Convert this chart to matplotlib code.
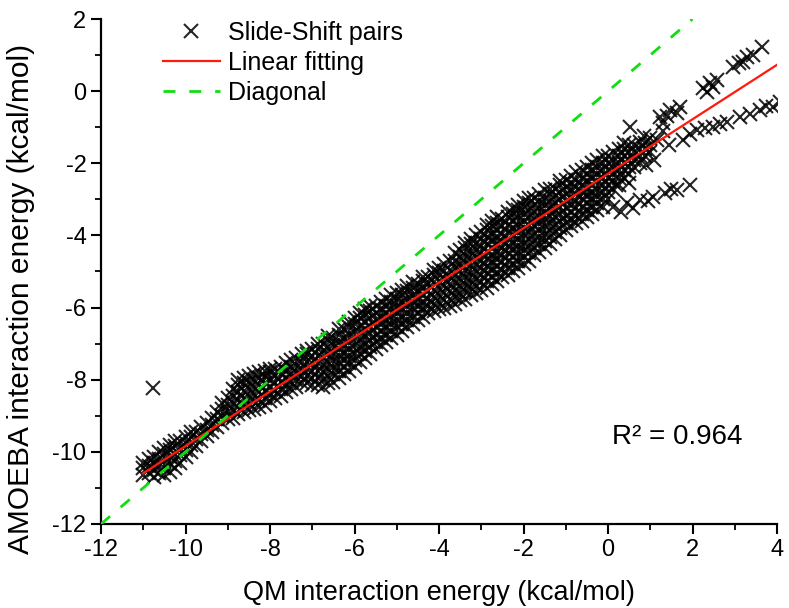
import matplotlib
matplotlib.use("Agg")
import matplotlib.pyplot as plt
from matplotlib.ticker import MultipleLocator

plt.rcParams['font.family'] = ['Liberation Sans', 'DejaVu Sans']
plt.rcParams['axes.unicode_minus'] = False

# ---- data ----
# dense band, main columns: QM value -> AMOEBA values
band_x = [-11.0, -10.75, -10.5, -10.25, -10.0, -9.75, -9.5, -9.25, -9.0, -8.75,
          -8.5, -8.25, -8.0, -7.75, -7.5, -7.25, -7.0, -6.75, -6.5, -6.25,
          -6.0, -5.75, -5.5, -5.25, -5.0, -4.75, -4.5, -4.25, -4.0, -3.75,
          -3.5, -3.25, -3.0, -2.75, -2.5, -2.25, -2.0, -1.75, -1.5, -1.25,
          -1.0, -0.75, -0.5, -0.25, 0.0, 0.25, 0.5, 0.75, 1.0]
band_y = [
    [-10.65, -10.45, -10.3],
    [-10.7, -10.5, -10.3, -10.15],
    [-10.65, -10.45, -10.25, -10.05, -9.9],
    [-10.45, -10.25, -10.05, -9.85, -9.7],
    [-10.15, -9.95, -9.75, -9.6],
    [-9.85, -9.65, -9.45],
    [-9.55, -9.4, -9.2],
    [-9.3, -9.1, -8.9],
    [-9.1, -8.9, -8.7, -8.5],
    [-8.95, -8.75, -8.55, -8.35, -8.15, -8.0],
    [-8.85, -8.65, -8.45, -8.25, -8.05, -7.9],
    [-8.75, -8.55, -8.35, -8.15, -7.95, -7.8],
    [-8.6, -8.4, -8.2, -8.0, -7.8, -7.7],
    [-8.45, -8.25, -8.05, -7.85, -7.65],
    [-8.25, -8.05, -7.85, -7.65, -7.45],
    [-8.1, -7.9, -7.7, -7.5, -7.3],
    [-8.15, -7.95, -7.75, -7.55, -7.35, -7.15],
    [-8.2, -8.0, -7.8, -7.6, -7.4, -7.2, -7.0],
    [-8.05, -7.85, -7.65, -7.45, -7.25, -7.05, -6.85],
    [-7.85, -7.65, -7.45, -7.25, -7.05, -6.85, -6.6],
    [-7.65, -7.45, -7.25, -7.05, -6.85, -6.65, -6.45, -6.3],
    [-7.4, -7.2, -7.0, -6.8, -6.6, -6.4, -6.2, -6.05],
    [-7.15, -6.95, -6.75, -6.55, -6.35, -6.15, -5.95],
    [-6.95, -6.75, -6.55, -6.35, -6.15, -5.95, -5.75],
    [-6.75, -6.55, -6.35, -6.15, -5.95, -5.75, -5.6],
    [-6.55, -6.35, -6.15, -5.95, -5.75, -5.55, -5.4],
    [-6.35, -6.15, -5.95, -5.75, -5.55, -5.35],
    [-6.15, -5.95, -5.75, -5.55, -5.35, -5.15],
    [-6.05, -5.85, -5.65, -5.45, -5.25, -5.05, -4.9],
    [-5.95, -5.75, -5.55, -5.35, -5.15, -4.95, -4.7],
    [-5.8, -5.6, -5.4, -5.2, -5.0, -4.8, -4.6, -4.4],
    [-5.65, -5.45, -5.25, -5.05, -4.85, -4.65, -4.45, -4.25, -4.1],
    [-5.5, -5.3, -5.1, -4.9, -4.7, -4.5, -4.3, -4.1, -3.9],
    [-5.35, -5.15, -4.95, -4.75, -4.55, -4.35, -4.15, -3.95, -3.75, -3.6],
    [-5.15, -4.95, -4.75, -4.55, -4.35, -4.15, -3.95, -3.75, -3.55],
    [-5.0, -4.8, -4.6, -4.4, -4.2, -4.0, -3.8, -3.6, -3.4, -3.25],
    [-4.8, -4.6, -4.4, -4.2, -4.0, -3.8, -3.6, -3.4, -3.2, -3.05],
    [-4.55, -4.35, -4.15, -3.95, -3.75, -3.55, -3.35, -3.15, -2.95],
    [-4.35, -4.15, -3.95, -3.75, -3.55, -3.35, -3.15, -2.95, -2.75],
    [-4.1, -3.9, -3.7, -3.5, -3.3, -3.1, -2.9, -2.7],
    [-3.85, -3.65, -3.45, -3.25, -3.05, -2.85, -2.65, -2.45],
    [-3.65, -3.45, -3.25, -3.05, -2.85, -2.65, -2.45, -2.25],
    [-3.5, -3.3, -3.1, -2.9, -2.7, -2.5, -2.3, -2.1],
    [-3.3, -3.1, -2.9, -2.7, -2.5, -2.3, -2.1, -1.9],
    [-3.0, -2.8, -2.6, -2.4, -2.2, -2.0, -1.8],
    [-2.6, -2.4, -2.2, -2.0, -1.8, -1.6],
    [-2.3, -2.1, -1.9, -1.7, -1.5],
    [-2.0, -1.8, -1.6, -1.4],
    [-1.7, -1.5, -1.3],
]

# dense band, in-between columns
band2_x = [-10.875, -10.625, -10.375, -10.125, -9.875, -9.625, -9.375, -9.125, -8.875,
           -8.625, -8.375, -8.125, -7.875, -7.625, -7.375, -7.125, -6.875, -6.625,
           -6.375, -6.125, -5.875, -5.625, -5.375, -5.125, -4.875, -4.625, -4.375,
           -4.125, -3.875, -3.625, -3.375, -3.125, -2.875, -2.625, -2.375, -2.125,
           -1.875, -1.625, -1.375, -1.125, -0.875, -0.625, -0.375, -0.125, 0.125,
           0.375, 0.625, 0.875]
band2_y = [
    [-10.6, -10.4, -10.2],
    [-10.6, -10.4, -10.2, -10.0],
    [-10.55, -10.35, -10.15, -9.95, -9.8],
    [-10.3, -10.1, -9.9, -9.7],
    [-10.0, -9.8, -9.6, -9.45],
    [-9.7, -9.5, -9.3],
    [-9.45, -9.25, -9.05],
    [-9.2, -9.0, -8.8, -8.65],
    [-9.05, -8.85, -8.65, -8.45, -8.25],
    [-8.9, -8.7, -8.5, -8.3, -8.1, -7.95],
    [-8.8, -8.6, -8.4, -8.2, -8.0, -7.85],
    [-8.7, -8.5, -8.3, -8.1, -7.9, -7.75],
    [-8.5, -8.3, -8.1, -7.9, -7.7],
    [-8.35, -8.15, -7.95, -7.75, -7.55],
    [-8.2, -8.0, -7.8, -7.6, -7.4],
    [-8.1, -7.9, -7.7, -7.5, -7.3, -7.2],
    [-8.15, -7.95, -7.75, -7.55, -7.35, -7.15, -7.0],
    [-8.1, -7.9, -7.7, -7.5, -7.3, -7.1, -6.9, -6.8],
    [-7.95, -7.75, -7.55, -7.35, -7.15, -6.95, -6.75, -6.6],
    [-7.75, -7.55, -7.35, -7.15, -6.95, -6.75, -6.55, -6.4],
    [-7.5, -7.3, -7.1, -6.9, -6.7, -6.5, -6.3, -6.15],
    [-7.3, -7.1, -6.9, -6.7, -6.5, -6.3, -6.1, -5.95],
    [-7.05, -6.85, -6.65, -6.45, -6.25, -6.05, -5.85],
    [-6.85, -6.65, -6.45, -6.25, -6.05, -5.85, -5.65],
    [-6.65, -6.45, -6.25, -6.05, -5.85, -5.65, -5.5],
    [-6.45, -6.25, -6.05, -5.85, -5.65, -5.45, -5.3],
    [-6.25, -6.05, -5.85, -5.65, -5.45, -5.25, -5.15],
    [-6.1, -5.9, -5.7, -5.5, -5.3, -5.1, -4.95],
    [-6.0, -5.8, -5.6, -5.4, -5.2, -5.0, -4.8],
    [-5.9, -5.7, -5.5, -5.3, -5.1, -4.9, -4.7, -4.5],
    [-5.75, -5.55, -5.35, -5.15, -4.95, -4.75, -4.55, -4.35, -4.2],
    [-5.6, -5.4, -5.2, -5.0, -4.8, -4.6, -4.4, -4.2, -4.0],
    [-5.45, -5.25, -5.05, -4.85, -4.65, -4.45, -4.25, -4.05, -3.85, -3.7],
    [-5.25, -5.05, -4.85, -4.65, -4.45, -4.25, -4.05, -3.85, -3.65, -3.5],
    [-5.1, -4.9, -4.7, -4.5, -4.3, -4.1, -3.9, -3.7, -3.5, -3.35],
    [-4.9, -4.7, -4.5, -4.3, -4.1, -3.9, -3.7, -3.5, -3.3, -3.15],
    [-4.7, -4.5, -4.3, -4.1, -3.9, -3.7, -3.5, -3.3, -3.1, -2.95],
    [-4.45, -4.25, -4.05, -3.85, -3.65, -3.45, -3.25, -3.05, -2.85],
    [-4.25, -4.05, -3.85, -3.65, -3.45, -3.25, -3.05, -2.85, -2.7],
    [-4.0, -3.8, -3.6, -3.4, -3.2, -3.0, -2.8, -2.6, -2.5],
    [-3.75, -3.55, -3.35, -3.15, -2.95, -2.75, -2.55, -2.35],
    [-3.6, -3.4, -3.2, -3.0, -2.8, -2.6, -2.4, -2.2],
    [-3.4, -3.2, -3.0, -2.8, -2.6, -2.4, -2.2, -2.0],
    [-3.2, -3.0, -2.8, -2.6, -2.4, -2.2, -2.0, -1.8],
    [-2.7, -2.5, -2.3, -2.1, -1.9, -1.7],
    [-2.4, -2.2, -2.0, -1.8, -1.6, -1.45],
    [-2.1, -1.9, -1.7, -1.5],
    [-1.8, -1.6, -1.45],
]

# upper right branch
upper_x = [1.23, 1.47, 1.70, 1.30, 1.63, 1.40, 2.25, 2.41, 2.58, 2.34, 2.48,
           2.96, 3.20, 3.28, 3.43, 3.64, 3.10]
upper_y = [-0.72, -0.52, -0.44, -0.88, -0.60, -0.70, 0.09, 0.23, 0.31, -0.02, 0.12,
           0.67, 0.81, 0.95, 1.00, 1.22, 0.78]
# middle right branch
mid_x = [1.77, 2.10, 2.49, 2.82, 3.12, 3.60, 3.90, 4.07, 0.52, 0.85, 1.15, 1.45,
         1.30, 2.30, 3.35, 1.95, 2.65, 3.75]
mid_y = [-1.35, -1.08, -0.99, -0.85, -0.72, -0.52, -0.44, -0.30, -1.00, -1.25, -1.35,
         -1.50, -1.10, -1.02, -0.62, -1.20, -0.92, -0.40]
# lower right branch
low_x = [0.12, 0.45, 0.76, 1.07, 1.35, 1.63, 1.94, 0.30, 0.60, 0.20, 0.50, 0.90, 1.10,
         0.95, 1.50]
low_y = [-3.21, -3.10, -3.02, -2.93, -2.82, -2.74, -2.60, -3.35, -3.25, -2.60, -2.55,
         -2.05, -1.90, -3.05, -2.70]
# isolated outlier
out_x = [-10.78]
out_y = [-8.23]

fit_slope = 0.755
fit_intercept = -2.29
fit_x = [-11.0, 4.0]
diag_x = [-12.0, 2.0]
r2_text = "R\u00b2 = 0.964"

# ---- assemble scatter ----
qm = []
amoeba = []
for cols_x, cols_y in ((band_x, band_y), (band2_x, band2_y)):
    for cx, ys in zip(cols_x, cols_y):
        for yy in ys:
            qm.append(cx)
            amoeba.append(yy)
for xs, ys in ((upper_x, upper_y), (mid_x, mid_y), (low_x, low_y), (out_x, out_y)):
    qm.extend(xs)
    amoeba.extend(ys)

fig = plt.figure(figsize=(7.89, 6.08), dpi=100)
ax = fig.add_axes([101/789, 84/608, 676/789, 505/608])

ax.plot(qm, amoeba, ls='none', marker='x', ms=9.5, mew=1.5, color='black',
        alpha=0.85, label='Slide-Shift pairs', zorder=2)
ax.plot(fit_x, [fit_slope * v + fit_intercept for v in fit_x], color='#ff1a0a',
        lw=1.6, label='Linear fitting', zorder=3)
ax.plot(diag_x, diag_x, color='#11dd11', lw=2.0, ls=(0, (4.3, 5.0)),
        label='Diagonal', zorder=3)

ax.set_xlim(-12, 4)
ax.set_ylim(-12, 2)
ax.xaxis.set_major_locator(MultipleLocator(2))
ax.xaxis.set_minor_locator(MultipleLocator(1))
ax.yaxis.set_major_locator(MultipleLocator(2))
ax.yaxis.set_minor_locator(MultipleLocator(1))
for s in ('top', 'right'):
    ax.spines[s].set_visible(False)
for s in ('left', 'bottom'):
    ax.spines[s].set_linewidth(1.6)
ax.tick_params(which='major', direction='out', length=7, width=1.5, labelsize=17)
ax.tick_params(which='minor', direction='out', length=4, width=1.3)

ax.set_xlabel('QM interaction energy (kcal/mol)', fontsize=19.5, labelpad=14)
ax.set_ylabel('AMOEBA interaction energy (kcal/mol)', fontsize=21.5)
ax.yaxis.set_label_coords(-0.098, 0.446)

ax.text(0.1, -9.6, r2_text, fontsize=20, va='center', ha='left')

leg = ax.legend(loc='upper left', bbox_to_anchor=(0.091, 0.997), frameon=False,
                fontsize=18, handlelength=2.3, handletextpad=0.3,
                labelspacing=0.25, borderpad=0, borderaxespad=0)

fig.savefig('out.png', dpi=100)
